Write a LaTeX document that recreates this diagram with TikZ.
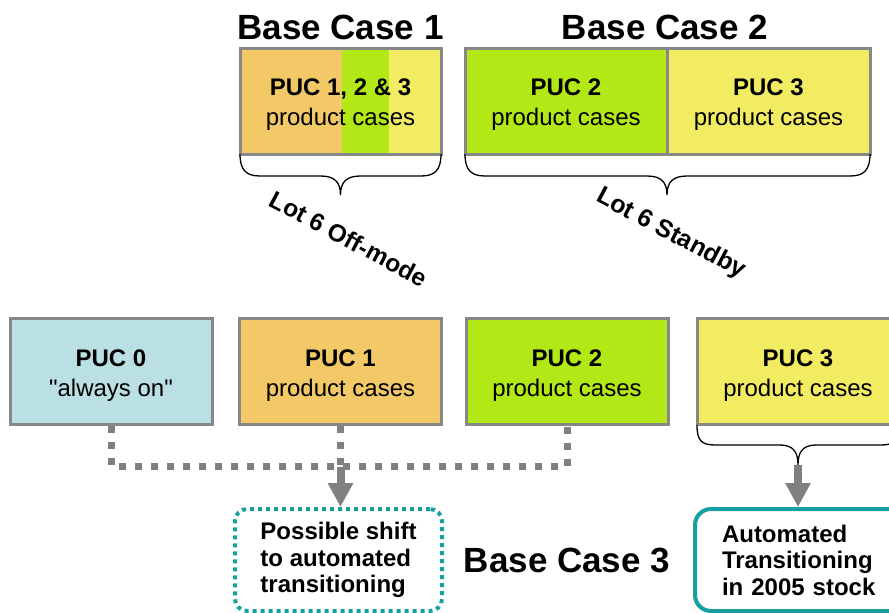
\documentclass[tikz,border=0pt]{standalone}
\usepackage{fontspec}
\setmainfont{Liberation Sans}
\usetikzlibrary{arrows.meta,calc}
\definecolor{orangeC}{HTML}{F2C966}
\definecolor{greenC}{HTML}{B2E816}
\definecolor{yellowC}{HTML}{F2EC62}
\definecolor{blueC}{HTML}{BBE0E3}
\definecolor{borderC}{HTML}{878787}
\definecolor{dotC}{HTML}{808080}
\definecolor{tealC}{HTML}{17A0A0}
\newcommand\pucstrut{\rule{0pt}{24pt}}
\begin{document}
\begin{tikzpicture}[x=1pt,y=-1pt,
  puc/.style={draw=borderC, line width=3pt, minimum width=202pt, minimum height=106pt,
    inner sep=0pt, align=center, font=\fontsize{24}{30}\selectfont},
  titlelbl/.style={font=\fontsize{35}{40}\selectfont\bfseries, inner sep=0pt},
  lotlbl/.style={font=\fontsize{24.5}{26}\selectfont\bfseries, rotate=-28, inner sep=0pt},
  bracepath/.style={draw=black, line width=1.3pt},
  dotline/.style={draw=dotC, line width=7pt, dash pattern=on 7pt off 9pt},
  fatarrow/.style={draw=dotC, line width=8pt, -{Triangle[length=24pt,width=24pt]}},
  outbox/.style={draw=tealC, line width=4pt, minimum height=102pt, inner ysep=4pt,
    align=left, font=\fontsize{24}{26.5}\selectfont\bfseries}
]
\useasboundingbox (0,0) rectangle (889,613);

% titles
\node[titlelbl] (t1) at (340.5,27) {Base Case 1};
\node[titlelbl] (t2) at (665,27) {Base Case 2};

% Base case 1 composite box
\fill[orangeC] (240,48) rectangle (342,154);
\fill[greenC] (342,48) rectangle (389,154);
\fill[yellowC] (389,48) rectangle (441,154);
\node[puc, minimum width=201pt] (bc1) at (340.5,101) {\pucstrut\textbf{PUC 1, 2 \& 3}\\product cases};

% Base case 2 boxes
\node[puc, fill=greenC] (bc2a) at (566,101) {\pucstrut\textbf{PUC 2}\\product cases};
\node[puc, fill=yellowC, minimum width=203pt] (bc2b) at (768.5,101) {\pucstrut\textbf{PUC 3}\\product cases};

% braces
\draw[bracepath] (240,154) .. controls +(0,16) and +(-14,0) .. (260,176) -- (320.5,176)
  .. controls +(14,0) and +(0,-13) .. (340.5,195)
  .. controls +(0,-13) and +(-14,0) .. (360.5,176) -- (421,176)
  .. controls +(14,0) and +(0,16) .. (441,154);
\draw[bracepath] (465,154) .. controls +(0,16) and +(-14,0) .. (485,176) -- (647,176)
  .. controls +(14,0) and +(0,-13) .. (667,195)
  .. controls +(0,-13) and +(-14,0) .. (687,176) -- (850,176)
  .. controls +(14,0) and +(0,16) .. (870,154);

% rotated labels
\node[lotlbl] (lot1) at (349,239) {Lot 6 Off-mode};
\node[lotlbl, font=\fontsize{25}{26}\selectfont\bfseries] (lot2) at (671,234) {Lot 6 Standby};

% bottom PUC boxes
\node[puc, fill=blueC] (puc0) at (111,371.5) {\pucstrut\textbf{PUC 0}\\\textquotedbl always on\textquotedbl};
\node[puc, fill=orangeC] (puc1) at (340.5,371.5) {\pucstrut\textbf{PUC 1}\\product cases};
\node[puc, fill=greenC] (puc2) at (567,371.5) {\pucstrut\textbf{PUC 2}\\product cases};
\node[puc, fill=yellowC] (puc3) at (798,371.5) {\pucstrut\textbf{PUC 3}\\product cases};

% brace under PUC 3
\draw[bracepath] (697,425) .. controls +(0,15) and +(-14,0) .. (715,445) -- (780,445)
  .. controls +(14,0) and +(0,-12) .. (798,465)
  .. controls +(0,-12) and +(-14,0) .. (816,445) -- (881,445)
  .. controls +(14,0) and +(0,15) .. (899,425);
\coordinate (tip3) at (798,465);

% output boxes
\node[outbox, dash pattern=on 4pt off 4pt, rounded corners=12pt, minimum width=207pt]
  (shift) at (338.5,560) {Possible shift\\to automated\\transitioning};
\node[outbox, rounded corners=16pt, text width=180pt, inner xsep=27pt, anchor=west]
  (auto) at (693,560) {Automated\\Transitioning\\in 2005 stock};
\node[titlelbl] (t3) at (567,560) {Base Case 3};

% connectors
\draw[dotline] (puc0.south) -- ++(0,40) -| (puc2.south);
\draw[dotline] (puc1.south) -- ++(0,42);
\coordinate (a1) at ($(puc1.south)+(0,41)$);
\draw[fatarrow] (a1) -- (a1 |- shift.north);
\draw[fatarrow] (tip3) -- (tip3 |- auto.north);
\end{tikzpicture}
\end{document}
